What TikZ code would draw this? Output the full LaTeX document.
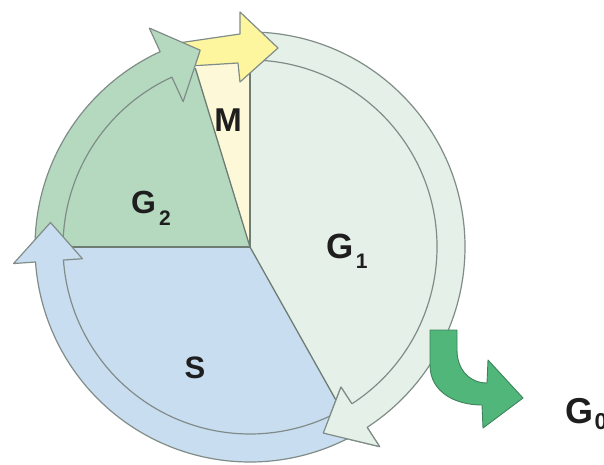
\documentclass[tikz,border=0pt]{standalone}
\usepackage{fontspec}
\setmainfont{Liberation Sans}
\definecolor{g1c}{RGB}{229,240,232}
\definecolor{g2c}{RGB}{181,217,191}
\definecolor{sc}{RGB}{201,221,240}
\definecolor{mc}{RGB}{253,248,216}
\definecolor{yc}{RGB}{253,246,158}
\definecolor{g0c}{RGB}{80,182,122}
\definecolor{g0l}{RGB}{62,130,92}
\definecolor{olc}{RGB}{128,140,136}
\definecolor{linec}{RGB}{110,124,116}
\definecolor{txt}{RGB}{30,30,30}
\begin{document}
\begin{tikzpicture}[x=1pt,y=1pt,line join=round,
  ol/.style={draw=olc,line width=1.2pt},
  sepline/.style={draw=linec,line width=1.3pt},
  lbl/.style={font=\fontsize{33}{33}\selectfont\bfseries,text=txt,inner sep=0pt}]
\useasboundingbox (0,0) rectangle (604,464);
\coordinate (C) at (250,217);
\begin{scope}[shift={(250,217)}]
  % pie sectors
  \fill[g1c] (0,0) -- (90:187) arc[start angle=90,end angle=-60.7,radius=187] -- cycle;
  \fill[mc] (0,0) -- (107:187) arc[start angle=107,end angle=90,radius=187] -- cycle;
  \fill[g2c] (0,0) -- (180:187) arc[start angle=180,end angle=107,radius=187] -- cycle;
  \fill[sc] (0,0) -- (299.3:187) arc[start angle=299.3,end angle=180,radius=187] -- cycle;
  \draw[sepline] (0,0) -- (90:187);
  \draw[sepline] (0,0) -- (107:187);
  \draw[sepline] (0,0) -- (180:187);
  \draw[sepline] (0,0) -- (-60.7:187);
  % G1 ring arrow
  \filldraw[fill=g1c,ol] (87:215) arc[start angle=87,end angle=-57,radius=215]
    -- (-57:238) -- (-68.5:200) -- (-57:167) -- (-57:187)
    arc[start angle=-57,end angle=87,radius=187] -- cycle;
\end{scope}
% M arrow (yellow)
\filldraw[fill=yc,ol] (175,420.5) -- (240,430) -- (240,452) -- (278,416) -- (240,382)
  -- (238,401) -- (190,398) -- cycle;
\begin{scope}[shift={(250,217)}]
  % G2 ring arrow
  \filldraw[fill=g2c,ol] (178:215) arc[start angle=178,end angle=114.7,radius=215]
    -- (114.7:241) -- (104.2:203) -- (114.7:160) -- (114.7:187)
    arc[start angle=114.7,end angle=178,radius=187] -- cycle;
  % S ring arrow
  \filldraw[fill=sc,ol] (-63:215) arc[start angle=-63,end angle=-176,radius=215]
    -- (-176:237) -- (173:201) -- (-176:168) -- (-176:187)
    arc[start angle=-176,end angle=-63,radius=187] -- cycle;
  % G1 head again, over the tail of S
  \fill[g1c] (-57:215) -- (-57:238) -- (-68.5:200) -- (-57:167) -- (-57:187) -- cycle;
  \draw[ol] (-57:215) -- (-57:238) -- (-68.5:200) -- (-57:167) -- (-57:187);
\end{scope}
% G0 arrow
\filldraw[fill=g0c,draw=g0l,line width=0.9pt] (430,134) -- (430,99)
  .. controls (430,72) and (455,59) .. (482,59) -- (483,36) -- (523,66) -- (488,104)
  -- (487,81) .. controls (470,81) and (457,94) .. (457,114) -- (457,134) -- cycle;
% labels
\node[lbl,anchor=base] (m) at (228,332) {M};
\node[lbl,anchor=base west,font=\fontsize{32}{32}\selectfont\bfseries] (g2) at (131,251)
  {G\hspace{3pt}\raisebox{-12pt}{\fontsize{21}{21}\selectfont\bfseries 2}};
\node[lbl,anchor=base west,font=\fontsize{35}{35}\selectfont\bfseries] (g1) at (326.5,206)
  {G\hspace{2pt}\raisebox{-10pt}{\fontsize{21}{21}\selectfont\bfseries 1}};
\node[lbl,anchor=base,font=\fontsize{31}{31}\selectfont\bfseries] (s) at (195,86) {S};
\node[lbl,anchor=base west,font=\fontsize{36}{36}\selectfont\bfseries] (g0) at (565.5,41)
  {G\hspace{1pt}\raisebox{-6pt}{\fontsize{23}{23}\selectfont\bfseries 0}};
\end{tikzpicture}
\end{document}
